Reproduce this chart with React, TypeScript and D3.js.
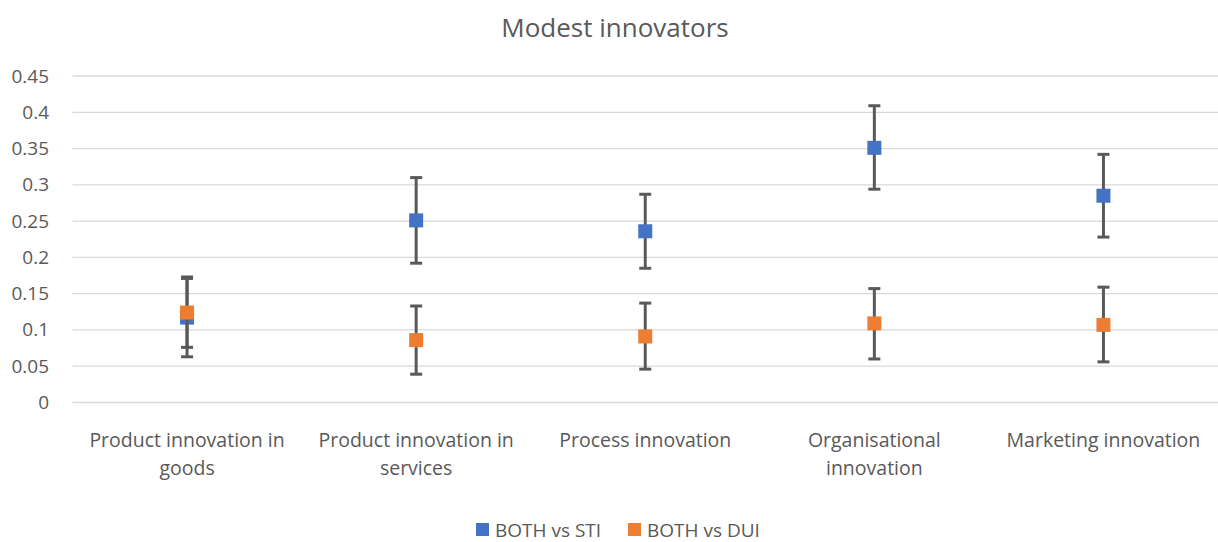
import React, { useEffect, useRef } from "react";
import * as d3 from "d3";

const categories = [
  "Product innovation in goods",
  "Product innovation in services",
  "Process innovation",
  "Organisational innovation",
  "Marketing innovation"
];
const seriesNames = ["BOTH vs STI", "BOTH vs DUI"];
const seriesColors = ["#4472C4", "#ED7D31"];
const stiValues = [0.117, 0.251, 0.236, 0.351, 0.285];
const stiLow = [0.063, 0.192, 0.185, 0.294, 0.228];
const stiHigh = [0.171, 0.31, 0.287, 0.409, 0.342];
const duiValues = [0.124, 0.086, 0.091, 0.109, 0.107];
const duiLow = [0.076, 0.039, 0.046, 0.06, 0.056];
const duiHigh = [0.173, 0.133, 0.137, 0.157, 0.159];
const yTicks = [0, 0.05, 0.1, 0.15, 0.2, 0.25, 0.3, 0.35, 0.4, 0.45];

const width = 1218;
const height = 542;
const margin = { top: 76, right: 0, bottom: 139.5, left: 72.5 };
const textColor = "#595959";
const font = "'Open Sans', sans-serif";

const wrap = (sel, maxWidth) => {
  sel.each(function () {
    let text = d3.select(this);
    let words = text.text().split(/\s+/);
    let x = text.attr("x");
    let y = text.attr("y");
    text.text(null);
    let line = [];
    let lineNo = 0;
    let tspan = text.append("tspan").attr("x", x).attr("y", y);
    words.forEach(w => {
      line.push(w);
      tspan.text(line.join(" "));
      if (tspan.node().getComputedTextLength() > maxWidth && line.length > 1) {
        line.pop();
        tspan.text(line.join(" "));
        line = [w];
        lineNo++;
        tspan = text
          .append("tspan")
          .attr("x", x)
          .attr("y", +y + lineNo * 28)
          .text(w);
      }
    });
  });
};

const App = () => {
  const ref = useRef(null);

  useEffect(() => {
    const svg = d3.select(ref.current);
    svg.selectAll("*").remove();

    const innerW = width - margin.left - margin.right;
    const innerH = height - margin.top - margin.bottom;

    const x = d3.scaleBand().domain(categories).range([margin.left, margin.left + innerW]);
    const y = d3.scaleLinear().domain([0, 0.45]).range([margin.top + innerH, margin.top]);

    // title
    svg
      .append("text")
      .attr("x", 615)
      .attr("y", 37)
      .attr("text-anchor", "middle")
      .style("font-size", "26px")
      .style("fill", textColor)
      .text("Modest innovators");

    // gridlines + y labels
    const g = svg.append("g");
    g.selectAll("line.grid")
      .data(yTicks)
      .enter()
      .append("line")
      .attr("x1", margin.left)
      .attr("x2", margin.left + innerW)
      .attr("y1", d => y(d))
      .attr("y2", d => y(d))
      .style("stroke", "#d9d9d9")
      .style("stroke-width", 1.3);

    g.selectAll("text.ytick")
      .data(yTicks)
      .enter()
      .append("text")
      .attr("x", 49)
      .attr("y", d => y(d) + 6.5)
      .attr("text-anchor", "end")
      .style("font-size", "19px")
      .style("fill", textColor)
      .text(d => d3.format("")(d));

    // category labels
    svg
      .selectAll("text.cat")
      .data(categories)
      .enter()
      .append("text")
      .attr("x", d => x(d) + x.bandwidth() / 2)
      .attr("y", 447)
      .attr("text-anchor", "middle")
      .style("font-size", "19.5px")
      .style("fill", textColor)
      .text(d => d)
      .call(wrap, 215);

    const series = [
      { vals: stiValues, lo: stiLow, hi: stiHigh },
      { vals: duiValues, lo: duiLow, hi: duiHigh }
    ];

    series.forEach((s, si) => {
      const sg = svg.append("g");
      categories.forEach((c, i) => {
        const cx = x(c) + x.bandwidth() / 2;
        sg.append("line")
          .attr("x1", cx)
          .attr("x2", cx)
          .attr("y1", y(s.lo[i]))
          .attr("y2", y(s.hi[i]))
          .style("stroke", textColor)
          .style("stroke-width", 3);
        [s.lo[i], s.hi[i]].forEach(v => {
          sg.append("line")
            .attr("x1", cx - 6)
            .attr("x2", cx + 6)
            .attr("y1", y(v))
            .attr("y2", y(v))
            .style("stroke", textColor)
            .style("stroke-width", 3);
        });
      });
      sg.selectAll("rect")
        .data(s.vals)
        .enter()
        .append("rect")
        .attr("x", (d, i) => x(categories[i]) + x.bandwidth() / 2 - 7)
        .attr("y", d => y(d) - 7)
        .attr("width", 14)
        .attr("height", 14)
        .style("fill", seriesColors[si]);
    });

    // legend
    const legendX = [476, 628];
    seriesNames.forEach((n, i) => {
      svg
        .append("rect")
        .attr("x", legendX[i])
        .attr("y", 523)
        .attr("width", 13)
        .attr("height", 13)
        .style("fill", seriesColors[i]);
      svg
        .append("text")
        .attr("x", legendX[i] + 19)
        .attr("y", 536.5)
        .style("font-size", "19px")
        .style("fill", textColor)
        .text(n);
    });
  }, []);

  return (
    <svg
      ref={ref}
      width={width}
      height={height}
      style={{ position: "absolute", left: 0, top: 0, background: "#fff", fontFamily: font }}
    />
  );
};

export default App;
